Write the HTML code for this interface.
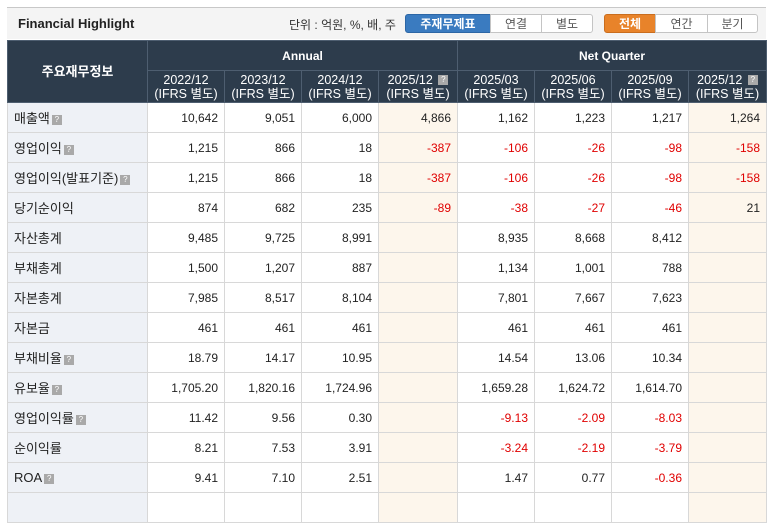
<!DOCTYPE html>
<html><head><meta charset="utf-8"><style>
body{margin:0;width:774px;height:497px;overflow:hidden;background:#fff;font-family:"Liberation Sans","Noto Sans CJK KR",sans-serif;position:relative}
.bar{position:absolute;left:7px;top:7px;width:759px;height:31px;background:#f4f4f4;border-top:1px solid #c8c8c8}
.title{position:absolute;left:11px;top:8px;font-size:13px;font-weight:bold;color:#222}
.unit{position:absolute;left:282px;top:8px;font-size:12px;color:#333}
.btn{position:absolute;top:6px;height:19px;line-height:19px;font-size:12px;text-align:center;border:1px solid #c4c4c4;background:#fff;color:#555;box-sizing:border-box}
.blue{background:#3a7bc0;color:#fff;border-color:#2c66a5;font-weight:bold;border-radius:3px 0 0 3px}
.orange{background:#e8832a;color:#fff;border-color:#c96d1e;font-weight:bold;border-radius:3px 0 0 3px}
table{position:absolute;left:7px;top:40px;border-collapse:collapse;table-layout:fixed;font-size:12px}
th{background:#2d3c4c;color:#fff;font-weight:bold;border:1px solid #4e5e70;font-size:12px;line-height:14px;padding:0}
tr.h2 th{font-weight:normal;font-size:12.5px}
td{border:1px solid #d8d8d8;height:29px;padding:0 6px 0 0;text-align:right;color:#222}
td.l{text-align:left;padding:0 0 0 6px;background:#eef1f6;font-size:13px}
td.h{background:#fdf6ec}
.r{color:#e00000}
.q{display:inline-block;width:10px;height:10px;background:#a9a9a9;color:#fff;font-size:8px;line-height:10px;text-align:center;vertical-align:middle;margin-left:2px;font-weight:normal}
</style></head><body>
<div class="bar">
<div class="title">Financial Highlight</div>
<div class="unit">단위 : 억원, %, 배, 주</div>
<div class="btn blue" style="left:398px;width:86px">주재무제표</div>
<div class="btn" style="left:483px;width:52px">연결</div>
<div class="btn" style="left:534px;width:52px;border-radius:0 3px 3px 0">별도</div>
<div class="btn orange" style="left:597px;width:52px">전체</div>
<div class="btn" style="left:648px;width:53px">연간</div>
<div class="btn" style="left:700px;width:51px;border-radius:0 3px 3px 0">분기</div>
</div>
<table>
<colgroup><col style="width:140px"><col style="width:77px"><col style="width:77px"><col style="width:77px"><col style="width:79px"><col style="width:77px"><col style="width:77px"><col style="width:77px"><col style="width:78px"></colgroup>
<tr style="height:30px"><th rowspan="2" style="font-size:13px">주요재무정보</th><th colspan="4">Annual</th><th colspan="4">Net Quarter</th></tr>
<tr class="h2" style="height:32px"><th>2022/12<br>(IFRS 별도)</th><th>2023/12<br>(IFRS 별도)</th><th>2024/12<br>(IFRS 별도)</th><th>2025/12 <span class="q">?</span><br>(IFRS 별도)</th><th>2025/03<br>(IFRS 별도)</th><th>2025/06<br>(IFRS 별도)</th><th>2025/09<br>(IFRS 별도)</th><th>2025/12 <span class="q">?</span><br>(IFRS 별도)</th></tr>
<tr><td class="l">매출액<span class="q">?</span></td><td>10,642</td><td>9,051</td><td>6,000</td><td class="h">4,866</td><td>1,162</td><td>1,223</td><td>1,217</td><td class="h">1,264</td></tr>
<tr><td class="l">영업이익<span class="q">?</span></td><td>1,215</td><td>866</td><td>18</td><td class="h r">-387</td><td class="r">-106</td><td class="r">-26</td><td class="r">-98</td><td class="h r">-158</td></tr>
<tr><td class="l">영업이익(발표기준)<span class="q">?</span></td><td>1,215</td><td>866</td><td>18</td><td class="h r">-387</td><td class="r">-106</td><td class="r">-26</td><td class="r">-98</td><td class="h r">-158</td></tr>
<tr><td class="l">당기순이익</td><td>874</td><td>682</td><td>235</td><td class="h r">-89</td><td class="r">-38</td><td class="r">-27</td><td class="r">-46</td><td class="h">21</td></tr>
<tr><td class="l">자산총계</td><td>9,485</td><td>9,725</td><td>8,991</td><td class="h"></td><td>8,935</td><td>8,668</td><td>8,412</td><td class="h"></td></tr>
<tr><td class="l">부채총계</td><td>1,500</td><td>1,207</td><td>887</td><td class="h"></td><td>1,134</td><td>1,001</td><td>788</td><td class="h"></td></tr>
<tr><td class="l">자본총계</td><td>7,985</td><td>8,517</td><td>8,104</td><td class="h"></td><td>7,801</td><td>7,667</td><td>7,623</td><td class="h"></td></tr>
<tr><td class="l">자본금</td><td>461</td><td>461</td><td>461</td><td class="h"></td><td>461</td><td>461</td><td>461</td><td class="h"></td></tr>
<tr><td class="l">부채비율<span class="q">?</span></td><td>18.79</td><td>14.17</td><td>10.95</td><td class="h"></td><td>14.54</td><td>13.06</td><td>10.34</td><td class="h"></td></tr>
<tr><td class="l">유보율<span class="q">?</span></td><td>1,705.20</td><td>1,820.16</td><td>1,724.96</td><td class="h"></td><td>1,659.28</td><td>1,624.72</td><td>1,614.70</td><td class="h"></td></tr>
<tr><td class="l">영업이익률<span class="q">?</span></td><td>11.42</td><td>9.56</td><td>0.30</td><td class="h"></td><td class="r">-9.13</td><td class="r">-2.09</td><td class="r">-8.03</td><td class="h"></td></tr>
<tr><td class="l">순이익률</td><td>8.21</td><td>7.53</td><td>3.91</td><td class="h"></td><td class="r">-3.24</td><td class="r">-2.19</td><td class="r">-3.79</td><td class="h"></td></tr>
<tr><td class="l">ROA<span class="q">?</span></td><td>9.41</td><td>7.10</td><td>2.51</td><td class="h"></td><td>1.47</td><td>0.77</td><td class="r">-0.36</td><td class="h"></td></tr>
<tr><td class="l"></td><td></td><td></td><td></td><td class="h"></td><td></td><td></td><td></td><td class="h"></td></tr>
</table>
</body></html>
